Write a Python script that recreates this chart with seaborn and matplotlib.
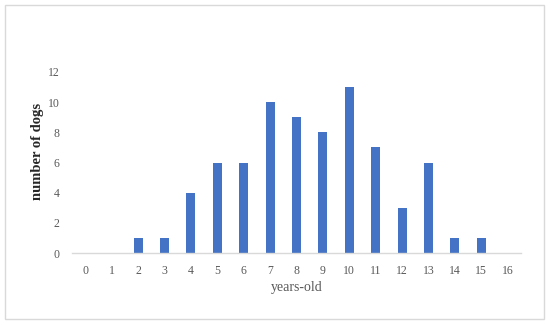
import pandas as pd
import seaborn as sns
import matplotlib.pyplot as plt
from matplotlib.patches import Rectangle

# chart data
ages = list(range(17))
dogs = [0, 0, 1, 1, 4, 6, 6, 10, 9, 8, 11, 7, 3, 6, 1, 1, 0]
y_ticks = [0, 2, 4, 6, 8, 10, 12]

df = pd.DataFrame({'age': ages, 'dogs': dogs})

sns.set_style('white')
plt.rcParams['font.family'] = ['Liberation Serif', 'DejaVu Serif']

fig = plt.figure(figsize=(5.5, 3.26), dpi=100)
ax = fig.add_axes([72 / 550, 1 - 253 / 326, 449 / 550, 181 / 326])

sns.barplot(df, x='age', y='dogs', color='#4472C4', width=0.34,
            saturation=1, linewidth=0, ax=ax)

ax.set_ylim(0, 12)
ax.set_yticks(y_ticks)
ax.set_xlim(-0.5, len(ages) - 0.5)

# only the bottom axis line, light grey
for side in ['top', 'right', 'left']:
    ax.spines[side].set_visible(False)
ax.spines['bottom'].set_color('#d9d9d9')
ax.spines['bottom'].set_linewidth(1)

ax.tick_params(axis='both', length=0, labelsize=8.5, labelcolor='#595959')
ax.tick_params(axis='x', pad=9)
ax.tick_params(axis='y', pad=9)

ax.set_xlabel('years-old', fontsize=10, color='#595959', va='center')
ax.set_ylabel('number of dogs', fontsize=10.5, fontweight='bold',
              color='#262626', va='center')
ax.xaxis.set_label_coords(0.5, (253 - 287) / 181)
ax.yaxis.set_label_coords((37 - 72) / 449, (253 - 151) / 181)

# thin grey frame round the whole chart
fig.patches.append(Rectangle((5 / 550, 1 - 319 / 326), 539 / 550, 314 / 326,
                             transform=fig.transFigure, fill=False,
                             edgecolor='#d9d9d9', linewidth=1))

fig.savefig('out.png', dpi=100)
